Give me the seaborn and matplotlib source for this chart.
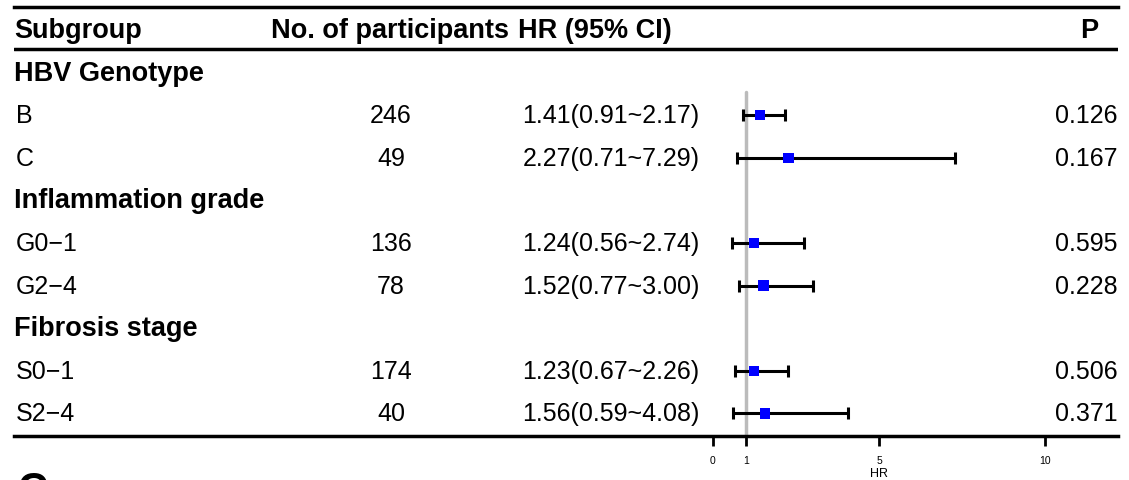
import matplotlib
matplotlib.use("Agg")
import matplotlib.pyplot as plt
import seaborn as sns
import pandas as pd
import numpy as np

sns.set_theme(style="white")
plt.rcParams['font.family'] = ['Liberation Sans', 'DejaVu Sans']
plt.rcParams['text.color'] = 'black'
plt.rcParams['axes.labelcolor'] = 'black'
plt.rcParams['xtick.color'] = 'black'

# ---- data ----
groups = ["HBV Genotype", "Inflammation grade", "Fibrosis stage"]
subgroups = ["B", "C", "G0\u22121", "G2\u22124", "S0\u22121", "S2\u22124"]
subgroup_group = [0, 0, 1, 1, 2, 2]
participants = [246, 49, 136, 78, 174, 40]
hr = [1.41, 2.27, 1.24, 1.52, 1.23, 1.56]
ci_low = [0.91, 0.71, 0.56, 0.77, 0.67, 0.59]
ci_high = [2.17, 7.29, 2.74, 3.00, 2.26, 4.08]
pvals = ["0.126", "0.167", "0.595", "0.228", "0.506", "0.371"]
xticks = [0, 1, 5, 10]
headers = ["Subgroup", "No. of participants", "HR (95% CI)", "P"]

# ---- build rows ----
rows = []
for g_i, g in enumerate(groups):
    rows.append(dict(kind="group", label=g))
    for s_i, s in enumerate(subgroups):
        if subgroup_group[s_i] == g_i:
            rows.append(dict(kind="item", idx=s_i, label=s))
for i, r in enumerate(rows):
    r["y"] = i + 1

W, H = 1129, 481
fig = plt.figure(figsize=(W / 100, H / 100), dpi=100)
left_px, right_px, top_px, bot_px = 14, 1118, 8, 437
ax = fig.add_axes([left_px / W, (H - bot_px) / H, (right_px - left_px) / W, (bot_px - top_px) / H])

# x scale: 0 -> 713px, 10 -> 1045px
ppu = (1045 - 713) / 10.0
ax.set_xlim((left_px - 713) / ppu, (right_px - 713) / ppu)
row_h = 42.6
ax.set_ylim((bot_px - 31) / row_h, (top_px - 31) / row_h)

item_rows = [r for r in rows if r["kind"] == "item"]
df = pd.DataFrame({
    "y": [r["y"] for r in item_rows],
    "hr": [hr[r["idx"]] for r in item_rows],
    "lo": [ci_low[r["idx"]] for r in item_rows],
    "hi": [ci_high[r["idx"]] for r in item_rows],
})

# reference line at HR = 1
ax.plot([1, 1], [(93 - 31) / row_h, (bot_px - 31) / row_h], color="#bbbbbb", lw=2.5, zorder=1)

ax.errorbar(df["hr"], df["y"], xerr=[df["hr"] - df["lo"], df["hi"] - df["hr"]],
            fmt="none", ecolor="black", elinewidth=2.2, capsize=4.5, capthick=2.2, zorder=2)
sns.scatterplot(data=df, x="hr", y="y", marker="s", color="#0000ff", s=55,
                edgecolor="none", ax=ax, zorder=3, legend=False)

fs_b = 19.5
fs = 18
trans = ax.get_yaxis_transform()  # x in axes fraction, y in data


def xa(px):
    return (px - left_px) / (right_px - left_px)


# header
ax.text(xa(14), 0, headers[0], fontsize=fs_b, fontweight="bold", va="center", ha="left", transform=trans)
ax.text(xa(271), 0, headers[1], fontsize=fs_b, fontweight="bold", va="center", ha="left", transform=trans)
ax.text(xa(518), 0, headers[2], fontsize=fs_b, fontweight="bold", va="center", ha="left", transform=trans)
ax.text(xa(1098), 0, headers[3], fontsize=fs_b, fontweight="bold", va="center", ha="right", transform=trans)

for r in rows:
    if r["kind"] == "group":
        ax.text(xa(14), r["y"], r["label"], fontsize=fs_b, fontweight="bold", va="center", ha="left", transform=trans)
    else:
        i = r["idx"]
        ax.text(xa(16), r["y"], r["label"], fontsize=fs, va="center", ha="left", transform=trans)
        ax.text(xa(391), r["y"], str(participants[i]), fontsize=fs, va="center", ha="center", transform=trans)
        ax.text(xa(611), r["y"], f"{hr[i]:.2f}({ci_low[i]:.2f}~{ci_high[i]:.2f})",
                fontsize=fs, va="center", ha="center", transform=trans)
        ax.text(xa(1118), r["y"], pvals[i], fontsize=fs, va="center", ha="right", transform=trans)

# horizontal rule under header
ax.axhline((50 - 31) / row_h, color="black", lw=2.5)

# spines / ticks
for s in ["left", "right"]:
    ax.spines[s].set_visible(False)
for s in ["top", "bottom"]:
    ax.spines[s].set_visible(True)
    ax.spines[s].set_linewidth(2.5)
    ax.spines[s].set_color("black")
ax.set_yticks([])
ax.set_xticks(xticks)
ax.set_xticklabels([str(t) for t in xticks], fontsize=7.5)
ax.tick_params(axis="x", direction="out", length=7, width=2, color="black", pad=7, bottom=True)
ax.set_xlabel("HR", fontsize=9)
ax.xaxis.set_label_coords((879 - left_px) / (right_px - left_px), -(474 - bot_px) / (bot_px - top_px))
ax.xaxis.label.set_va("center")
ax.set_ylabel("")
ax.grid(False)

# partial panel label at the very bottom (cropped in the reference)
fig.text(17 / W, (H - 471) / H, "C", fontsize=30, fontweight="bold", ha="left", va="top")

fig.savefig("out.png", dpi=100)
